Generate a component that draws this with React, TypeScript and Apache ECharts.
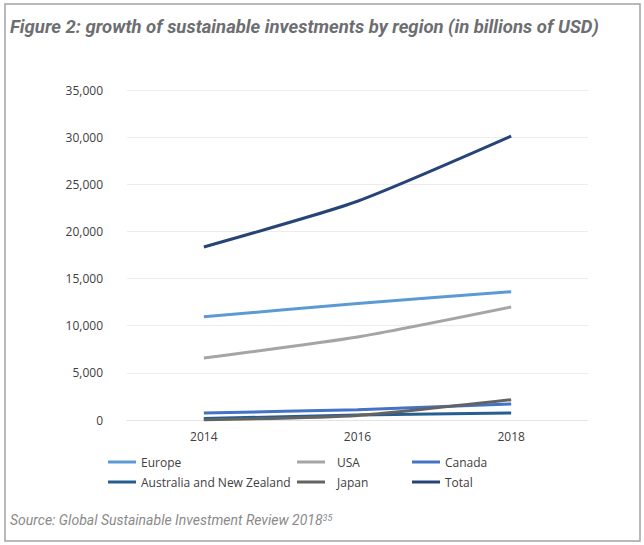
import React, { useEffect, useRef } from "react";
import * as echarts from "echarts";

const years = ["2014", "2016", "2018"];
const europe = [10950, 12350, 13600];
const usa = [6580, 8800, 11980];
const canada = [740, 1100, 1700];
const anz = [150, 520, 740];
const japan = [10, 480, 2150];
const total = [18350, 23200, 30100];

const seriesNames = ["Europe", "USA", "Canada", "Australia and New Zealand", "Japan", "Total"];
const seriesData = [europe, usa, canada, anz, japan, total];
const colors = ["#5B9BD5", "#A5A5A5", "#4472C4", "#255E91", "#636363", "#264478"];

const FONT = "'Open Sans', 'Noto Sans', sans-serif";
const TITLE_FONT = "Roboto, sans-serif";

export default function App() {
  const ref = useRef<HTMLDivElement>(null);
  useEffect(() => {
    if (!ref.current) return;
    const chart = echarts.init(ref.current, undefined, { renderer: "svg" });
    const legendPos = [
      { left: 108, top: 456, pad: 0 },
      { left: 297, top: 456, pad: 7 },
      { left: 412, top: 456, pad: 0 },
      { left: 108, top: 476, pad: 0 },
      { left: 297, top: 476, pad: 7 },
      { left: 412, top: 476, pad: 0 },
    ];
    const option: any = {
      animation: false,
      backgroundColor: "#ffffff",
      color: colors,
      grid: { left: 127, right: 56, top: 90, bottom: 125, containLabel: false },
      xAxis: {
        type: "category",
        data: years,
        boundaryGap: true,
        axisLine: { show: true, lineStyle: { color: "#e3e3e3", width: 1 } },
        axisTick: { show: false },
        axisLabel: { color: "#404040", fontFamily: FONT, fontSize: 12, margin: 10 },
      },
      yAxis: {
        type: "value",
        min: 0,
        max: 35000,
        interval: 5000,
        axisLine: { show: false },
        axisTick: { show: false },
        splitLine: { lineStyle: { color: "#ececec", width: 1 } },
        axisLabel: {
          color: "#404040",
          fontFamily: FONT,
          fontSize: 12,
          margin: 24,
          formatter: (v: number) => v.toLocaleString("en-US"),
        },
      },
      legend: legendPos.map((p, i) => ({
        data: [seriesNames[i]],
        left: p.left,
        top: p.top,
        padding: 0,
        icon: "rect",
        itemWidth: 28,
        itemHeight: 3,
        textStyle: {
          color: "#404040",
          fontFamily: FONT,
          fontSize: 12,
          padding: [0, 0, 0, p.pad],
        },
      })),
      series: seriesNames.map((name, i) => ({
        name,
        type: "line",
        data: seriesData[i],
        smooth: 0.2,
        showSymbol: false,
        lineStyle: { width: 3, color: colors[i] },
        itemStyle: { color: colors[i] },
      })),
      graphic: [
        {
          type: "rect",
          shape: { x: 5, y: 4, width: 635, height: 537 },
          style: { fill: "none", stroke: "#a3a3a3", lineWidth: 1.5 },
          silent: true,
        },
        {
          type: "text",
          x: 10,
          y: 27,
          style: {
            text: "Figure 2: growth of sustainable investments by region (in billions of USD)",
            fontFamily: TITLE_FONT,
            fontStyle: "italic",
            fontWeight: "bold",
            fontSize: 18.5,
            fill: "#6d6e71",
            verticalAlign: "middle",
          },
        },
        {
          type: "text",
          x: 10,
          y: 520,
          style: {
            text: "{a|Source: Global Sustainable Investment Review 2018}{s|35}",
            verticalAlign: "middle",
            rich: {
              a: {
                fontFamily: TITLE_FONT,
                fontStyle: "italic",
                fontSize: 14,
                fill: "#8a8a8a",
                color: "#8a8a8a",
              },
              s: {
                fontFamily: TITLE_FONT,
                fontStyle: "italic",
                fontSize: 9,
                fill: "#8a8a8a",
                color: "#8a8a8a",
                verticalAlign: "top",
              },
            },
          },
        },
      ],
    };
    chart.setOption(option);
    return () => chart.dispose();
  }, []);
  return (
    <div
      ref={ref}
      style={{ position: "fixed", left: 0, top: 0, width: 644, height: 545 }}
    />
  );
}
